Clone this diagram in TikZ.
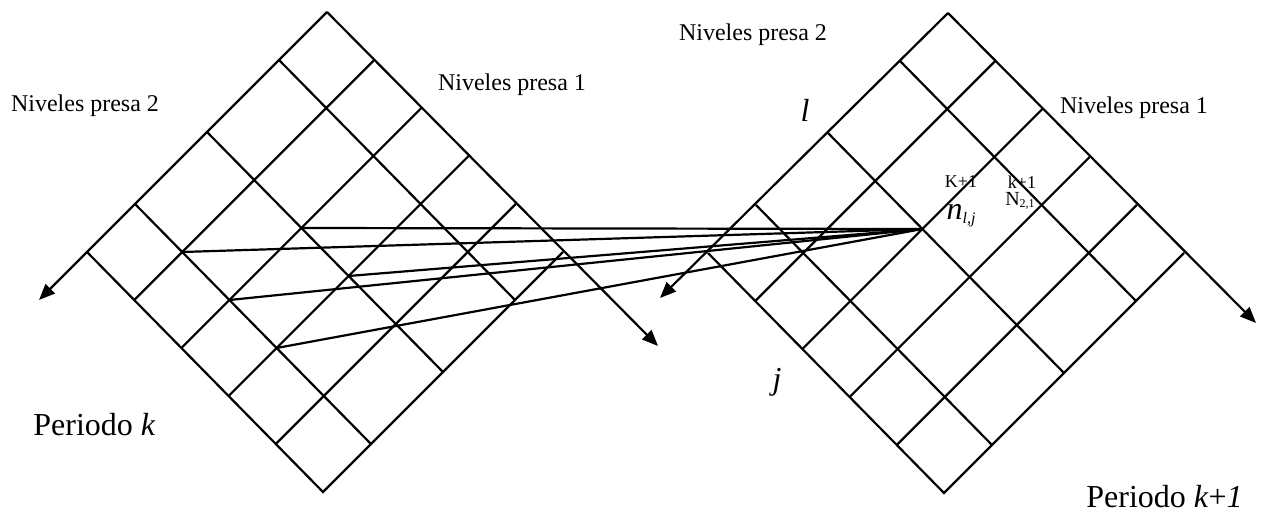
\documentclass[tikz,border=0pt]{standalone}
\usepackage{fontspec}
\setmainfont{Liberation Serif}
\usetikzlibrary{arrows.meta}
\newcommand{\presagrid}[3]{%
\begin{scope}[shift={(#2,#3)}]
 \coordinate (#1T) at (0,0);
 \coordinate (#1L) at (-240,240);
 \coordinate (#1R) at (236,240);
 \coordinate (#1B) at (-4,480);
 \foreach \f in {0.2,0.5,0.8} \draw[gridline] ({-240*\f},{240*\f}) -- ++(236,240);
 \foreach \g in {0.2,0.4,0.6,0.8} \draw[gridline] ({236*\g},{240*\g}) -- ++(-240,240);
 \draw[gridline] (#1L) -- (#1B) -- (#1R);
 \coordinate (#1p54) at ({-240*0.5+236*0.4},{240*0.9});
 \coordinate (#1p82) at ({-240*0.8+236*0.2},{240*1.0});
 \coordinate (#1p56) at ({-240*0.5+236*0.6},{240*1.1});
 \coordinate (#1p84) at ({-240*0.8+236*0.4},{240*1.2});
 \coordinate (#1p86) at ({-240*0.8+236*0.6},{240*1.4});
\end{scope}}
\begin{document}
\begin{tikzpicture}[x=0.5pt,y=-0.5pt,
  gridline/.style={line width=1.1pt},
  fanline/.style={line width=1.1pt},
  axisline/.style={line width=1.1pt,-{Triangle[length=8pt,width=6.5pt]}},
  smalllab/.style={font=\fontsize{12}{14}\selectfont, inner sep=0pt},
  biglab/.style={font=\fontsize{16}{19}\selectfont, inner sep=0pt},
  tinylab/.style={font=\fontsize{9}{10}\selectfont, inner sep=0pt}]
\path[use as bounding box] (0,0) rectangle (1266,513);

% period k
\presagrid{k}{327}{12}
\coordinate (kTipL) at (39,300);
\coordinate (kTipR) at (658,346);
\draw[axisline] (kT) -- (kTipL);
\draw[axisline] (kT) -- (kTipR);

% period k+1
\presagrid{m}{948}{13}
\coordinate (mTipL) at (660,298);
\coordinate (mTipR) at (1256,323);
\draw[axisline] (mT) -- (mTipL);
\draw[axisline] (mT) -- (mTipR);

% transitions
\foreach \p in {kp54,kp82,kp56,kp84,kp86}
  \draw[fanline] (\p) -- (mp54);

% labels
\node[smalllab] (k2) at (85,106) {Niveles presa 2};
\node[smalllab] (k1) at (512,85) {Niveles presa 1};
\node[biglab, anchor=base west] (pk) at (33,436) {Periodo \textit{k}};
\node[smalllab] (m2) at (753,35) {Niveles presa 2};
\node[smalllab] (m1) at (1134,108) {Niveles presa 1};
\node[biglab, anchor=base west] (pk1) at (1086,508) {Periodo \textit{k}+\textit{1}};
\node[biglab] (il) at (805,110) {\textit{l}};
\node[biglab] (ij) at (777,382) {\textit{j}};
\node[tinylab] (s1) at (961,182) {K+1};
\node[tinylab] (s2) at (1022,182) {k+1};
\node[inner sep=0pt] (nlj) at (961,216) {{\fontsize{16}{18}\selectfont\itshape n}{\fontsize{8}{9}\selectfont\itshape\raisebox{-0.5ex}{l,j}}};
\node[inner sep=0pt] (n21) at (1020,201) {{\fontsize{10}{11}\selectfont N}{\fontsize{6}{7}\selectfont\raisebox{-0.5ex}{2,1}}};
\end{tikzpicture}
\end{document}
